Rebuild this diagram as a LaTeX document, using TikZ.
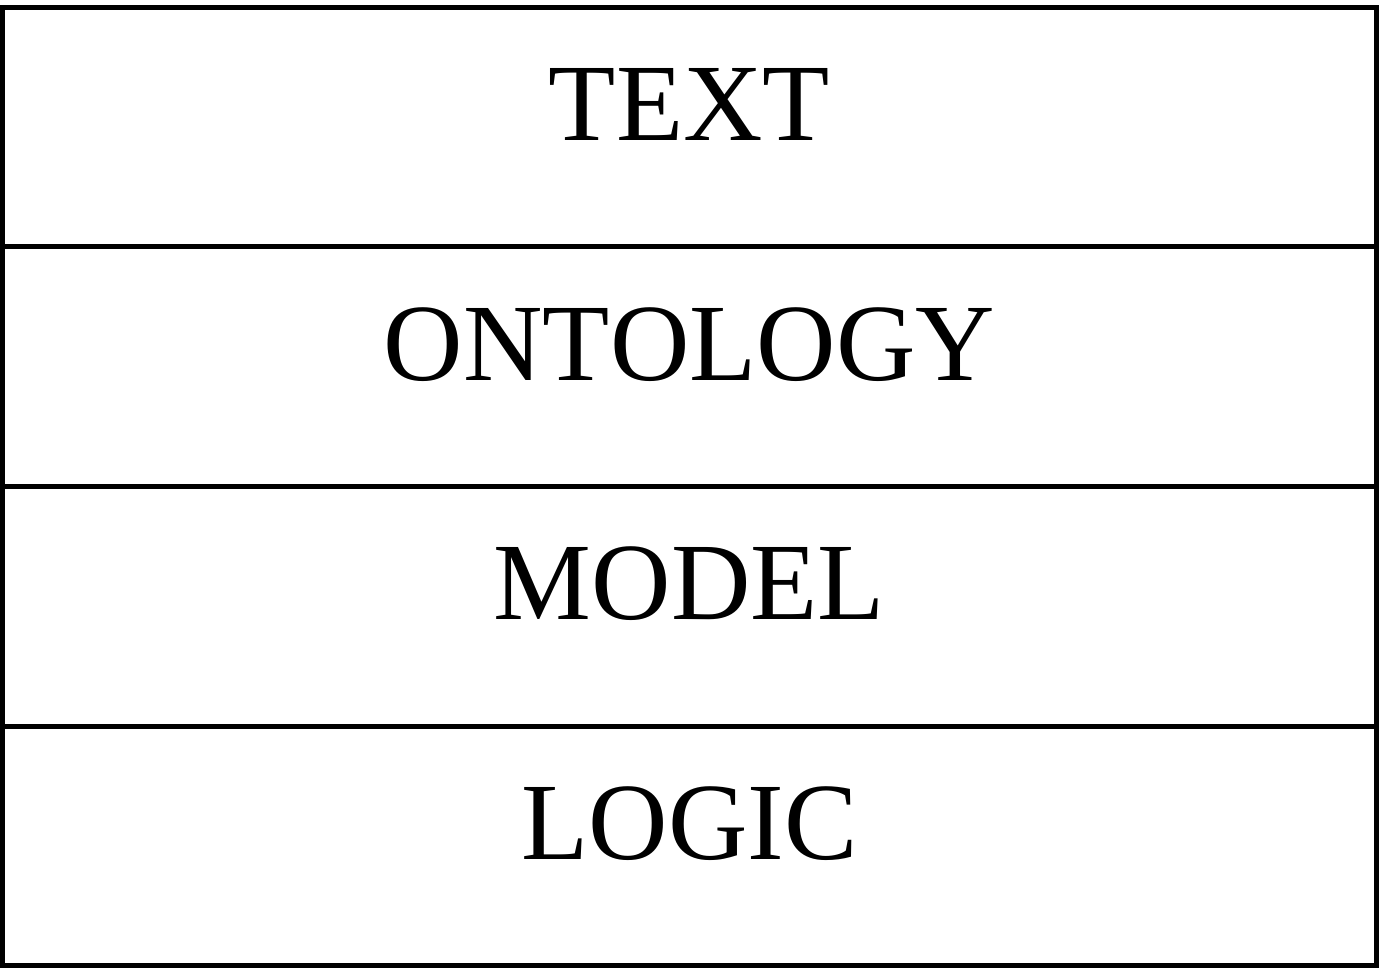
\documentclass[tikz,border=0pt]{standalone}
\usepackage{fontspec}
\setmainfont[Kerning=Off]{Liberation Serif}
\begin{document}
\begin{tikzpicture}[x=1pt,y=-1pt,
  layerbox/.style={draw=black, line width=5pt, rectangle, inner sep=0pt,
    minimum width=1374pt, minimum height=239.5pt},
  layertext/.style={anchor=base, inner sep=0pt,
    font=\fontsize{110}{120}\selectfont}]
  \useasboundingbox (0,0) rectangle (1379,968);
  % four stacked layers, top to bottom
  \node[layerbox] (text)     at (689.5,127.25) {};
  \node[layerbox] (ontology) at (689.5,366.75) {};
  \node[layerbox] (model)    at (689.5,606.25) {};
  \node[layerbox] (logic)    at (689.5,845.75) {};
  % layer names, set on a common baseline within each layer
  \node[layertext] (textlbl)     at (689.5,140.5) {TEXT};
  \node[layertext] (ontologylbl) at (689.5,380)   {ONTOLOGY};
  \node[layertext] (modellbl)    at (689.5,619.5) {MODEL};
  \node[layertext] (logiclbl)    at (689.5,859)   {LOGIC};
\end{tikzpicture}
\end{document}
